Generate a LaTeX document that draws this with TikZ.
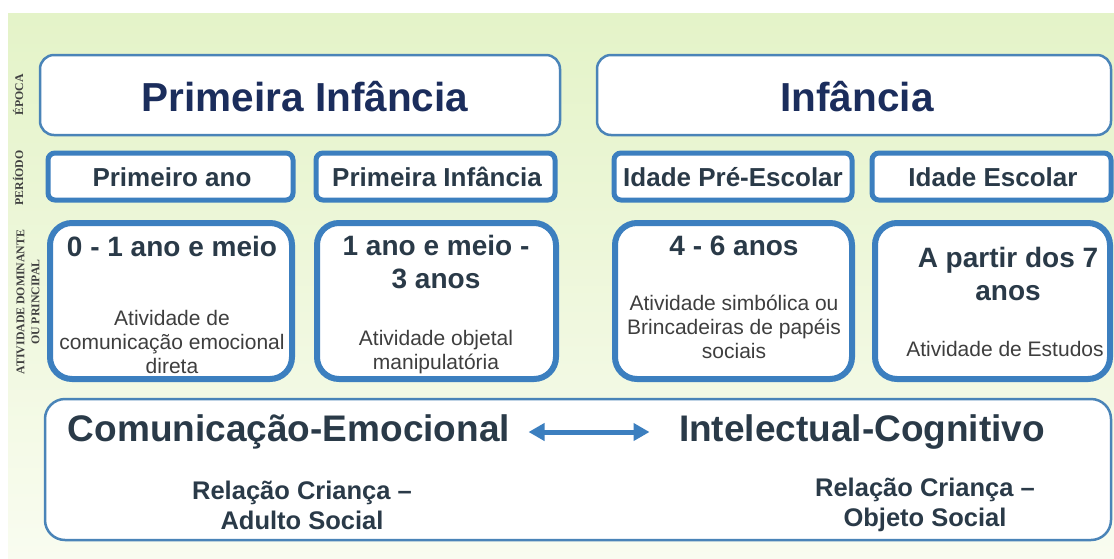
\documentclass[tikz,border=0pt]{standalone}
\usepackage{fontspec}
\setmainfont{Liberation Sans}
\newfontfamily\serifside{Liberation Serif}
\usetikzlibrary{arrows.meta}
\definecolor{bord}{HTML}{3C7FBF}
\definecolor{bordthin}{HTML}{4A84B8}
\definecolor{navy}{HTML}{1B2D5C}
\definecolor{dslate}{HTML}{2A3A48}
\definecolor{graytxt}{HTML}{3E3E3E}
\definecolor{bgtop}{HTML}{E4F3C8}
\definecolor{bgbot}{HTML}{F9FCF0}
\tikzset{
  epbox/.style={draw=bordthin, line width=2.5pt, rounded corners=14pt, fill=white},
  perbox/.style={draw=bord, line width=5pt, rounded corners=7pt, fill=white},
  atbox/.style={draw=bord, line width=6pt, rounded corners=22pt, fill=white},
  botbox/.style={draw=bordthin, line width=2.5pt, rounded corners=20pt, fill=white},
  eptxt/.style={font=\fontsize{40.5}{44}\selectfont\bfseries, text=navy},
  pertxt/.style={font=\fontsize{26}{28}\selectfont\bfseries, text=dslate},
  agetxt/.style={font=\fontsize{28}{33}\selectfont\bfseries, text=dslate, align=center},
  subtxt/.style={font=\fontsize{21}{24}\selectfont, text=graytxt, align=center},
  bigtxt/.style={font=\fontsize{37}{40}\selectfont\bfseries, text=dslate},
  reltxt/.style={font=\fontsize{25.5}{30}\selectfont\bfseries, text=dslate, align=center},
  sidetxt/.style={font=\serifside\fontsize{11.8}{15}\selectfont\bfseries, text=black!75, rotate=90, align=center},
  link/.style={draw=bord, line width=5pt, {Triangle[width=17pt,length=16pt]}-{Triangle[width=17pt,length=16pt]}}
}
\begin{document}
\begin{tikzpicture}[x=1pt,y=-1pt]
\useasboundingbox (0,0) rectangle (1114,558);
\fill[white] (0,0) rectangle (1114,558);
\shade[top color=bgtop, bottom color=bgbot] (8,13) rectangle (1114,558);
% side labels
\node[sidetxt] (sEp) at (18,95) {ÉPOCA};
\node[sidetxt] (sPe) at (18,178) {PERÍODO};
\node[sidetxt] (sAt) at (28,302) {ATIVIDADE DOMINANTE\\OU PRINCIPAL};
% epoch boxes
\draw[epbox] (40,55) rectangle (560,135);
\node[eptxt] (e1) at (305,97) {Primeira Infância};
\draw[epbox] (597,55) rectangle (1111,135);
\node[eptxt] (e2) at (857,97) {Infância};
% period boxes
\draw[perbox] (48,153) rectangle (293,200);
\node[pertxt] (p1) at (172,177) {Primeiro ano};
\draw[perbox] (316,153) rectangle (555,200);
\node[pertxt] (p2) at (437,177) {Primeira Infância};
\draw[perbox] (614,153) rectangle (852,200);
\node[pertxt] (p3) at (733,177) {Idade Pré-Escolar};
\draw[perbox] (872,153) rectangle (1111,200);
\node[pertxt] (p4) at (993,177) {Idade Escolar};
% activity boxes
\draw[atbox] (50,223) rectangle (292,379);
\node[agetxt] (a1) at (172,246) {0 - 1 ano e meio};
\node[subtxt] (a1s) at (172,342) {Atividade de\\comunicação emocional\\direta};
\draw[atbox] (317,223) rectangle (556,379);
\node[agetxt] (a2) at (436,262) {1 ano e meio -\\3 anos};
\node[subtxt] (a2s) at (436,352) {Atividade objetal\\manipulatória};
\draw[atbox] (615,223) rectangle (852,379);
\node[agetxt] (a3) at (734,246) {4 - 6 anos};
\node[subtxt] (a3s) at (734,327) {Atividade simbólica ou\\Brincadeiras de papéis\\sociais};
\draw[atbox] (875,223) rectangle (1110,379);
\node[agetxt] (a4) at (1008,274) {A partir dos 7\\anos};
\node[subtxt] (a4s) at (1005,349) {Atividade de Estudos};
% bottom box
\draw[botbox] (45,399) rectangle (1111,540);
\node[bigtxt] (ce) at (289,432) {Comunicação-Emocional};
\node[bigtxt] (ic) at (862,432) {Intelectual-Cognitivo};
\node[reltxt] (r1) at (302,505) {Relação Criança –\\Adulto Social};
\node[reltxt] (r2) at (925,505) {Relação Criança –\\Objeto Social};
\draw[link, shorten <=15pt, shorten >=26pt] (ce.east) -- (ic.west);
\end{tikzpicture}
\end{document}
